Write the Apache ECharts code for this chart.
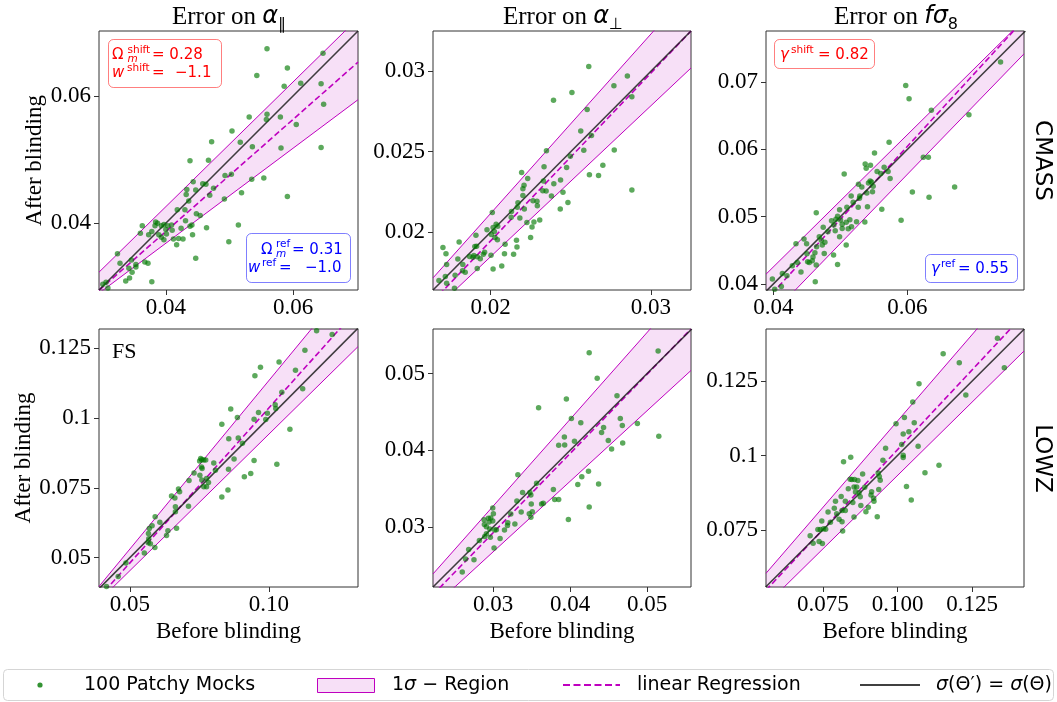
<!DOCTYPE html>
<html>
<head>
<meta charset="utf-8">
<script src="https://cdn.jsdelivr.net/npm/echarts@6/dist/echarts.min.js"></script>
<style>
  html, body { margin: 0; padding: 0; background: #fff; }
  #chart { width: 1057px; height: 702px; }
</style>
</head>
<body>
<div id="chart"></div>
<script>
// Errors of the BAO/RSD parameters measured on 100 Patchy mocks, before vs after blinding.
// Each pair is [before blinding, after blinding].
const cmassAlphaPar = [
  [0.0559,0.0674],[0.0647,0.0667],[0.0591,0.0644],[0.0543,0.0632],[0.0612,0.0620],[0.0586,0.0615],
  [0.0644,0.0619],[0.0648,0.0587],[0.0531,0.0567],[0.0559,0.0571],[0.0558,0.0563],[0.0580,0.0567],
  [0.0605,0.0555],[0.0504,0.0545],[0.0472,0.0528],[0.0517,0.0527],[0.0536,0.0520],[0.0581,0.0518],
  [0.0644,0.0519],[0.0438,0.0498],[0.0467,0.0499],[0.0493,0.0475],[0.0503,0.0477],[0.0535,0.0469],
  [0.0554,0.0471],[0.0443,0.0465],[0.0458,0.0462],[0.0433,0.0453],[0.0447,0.0452],[0.0463,0.0461],
  [0.0475,0.0455],[0.0591,0.0442],[0.0432,0.0445],[0.0436,0.0435],[0.0469,0.0444],[0.0492,0.0438],
  [0.0519,0.0448],[0.0418,0.0421],[0.0430,0.0421],[0.0448,0.0415],[0.0454,0.0412],[0.0384,0.0402],
  [0.0387,0.0400],[0.0393,0.0396],[0.0397,0.0398],[0.0403,0.0396],[0.0409,0.0397],[0.0441,0.0397],
  [0.0438,0.0395],[0.0431,0.0404],[0.0464,0.0393],[0.0514,0.0397],[0.0363,0.0396],[0.0360,0.0384],
  [0.0373,0.0382],[0.0378,0.0387],[0.0389,0.0382],[0.0393,0.0378],[0.0397,0.0374],[0.0401,0.0383],
  [0.0410,0.0389],[0.0412,0.0375],[0.0420,0.0376],[0.0427,0.0375],[0.0442,0.0382],[0.0417,0.0366],
  [0.0499,0.0371],[0.0324,0.0352],[0.0328,0.0337],[0.0342,0.0329],[0.0346,0.0342],[0.0353,0.0335],
  [0.0353,0.0331],[0.0347,0.0323],[0.0367,0.0339],[0.0372,0.0337],[0.0447,0.0345],[0.0337,0.0309],
  [0.0343,0.0314],[0.0378,0.0308],[0.0301,0.0304],[0.0309,0.0298],[0.0306,0.0307],[0.0424,0.0392],
  [0.0400,0.0390],[0.0383,0.0396]
];
const cmassAlphaPerp = [
  [0.02612,0.03029],[0.02853,0.02971],[0.02769,0.02910],[0.02507,0.02868],[0.02392,0.02820],[0.02602,0.02762],
  [0.02881,0.02841],[0.02562,0.02628],[0.02629,0.02600],[0.02348,0.02506],[0.02581,0.02508],[0.02771,0.02510],
  [0.02497,0.02471],[0.02333,0.02406],[0.02474,0.02402],[0.02193,0.02370],[0.02231,0.02333],[0.02208,0.02291],
  [0.02201,0.02270],[0.02329,0.02318],[0.02394,0.02301],[0.02436,0.02324],[0.02616,0.02356],[0.02673,0.02351],
  [0.02700,0.02416],[0.02325,0.02257],[0.02346,0.02255],[0.02379,0.02224],[0.02451,0.02247],[0.02881,0.02262],
  [0.02201,0.02228],[0.02170,0.02182],[0.02264,0.02195],[0.02289,0.02192],[0.02291,0.02163],[0.02210,0.02144],
  [0.02166,0.02155],[0.02130,0.02128],[0.02128,0.02092],[0.02182,0.02088],[0.02434,0.02144],[0.02482,0.02184],
  [0.02010,0.02121],[0.02015,0.02029],[0.01977,0.02015],[0.02034,0.02048],[0.02044,0.02036],[0.02023,0.02004],
  [0.02004,0.01985],[0.02027,0.01967],[0.02042,0.01952],[0.02226,0.02059],[0.02270,0.02063],[0.02306,0.02075],
  [0.02258,0.02031],[0.02249,0.01967],[0.02090,0.01925],[0.02161,0.01950],[0.02164,0.01908],[0.01908,0.01981],
  [0.01912,0.01912],[0.01803,0.01939],[0.01702,0.01904],[0.01721,0.01866],[0.01868,0.01849],[0.01889,0.01843],
  [0.01916,0.01847],[0.01935,0.01835],[0.01954,0.01862],[0.02002,0.01856],[0.02086,0.01866],[0.02143,0.01862],
  [0.01795,0.01833],[0.01826,0.01799],[0.01725,0.01799],[0.01916,0.01774],[0.02015,0.01770],[0.02069,0.01789],
  [0.01824,0.01759],[0.01841,0.01751],[0.01778,0.01732],[0.01717,0.01724],[0.01677,0.01699],[0.01725,0.01682],
  [0.01774,0.01651],[0.01692,0.01638],[0.01901,0.01910],[0.01895,0.01854],[0.01962,0.01874]
];
const cmassFs8 = [
  [0.07390,0.07298],[0.05975,0.06950],[0.06025,0.06752],[0.06357,0.06583],[0.06918,0.06514],[0.05727,0.06107],
  [0.05509,0.05948],[0.06238,0.05883],[0.06313,0.05883],[0.05370,0.05784],[0.05449,0.05764],[0.05385,0.05720],
  [0.05653,0.05734],[0.05548,0.05670],[0.05603,0.05640],[0.05712,0.05670],[0.05057,0.05635],[0.05444,0.05531],
  [0.05464,0.05516],[0.05419,0.05501],[0.05270,0.05481],[0.05742,0.05566],[0.05489,0.05452],[0.05320,0.05442],
  [0.06705,0.05442],[0.06074,0.05367],[0.06323,0.05288],[0.05479,0.05372],[0.05395,0.05352],[0.05290,0.05308],
  [0.05161,0.05308],[0.05191,0.05213],[0.05285,0.05273],[0.05266,0.05139],[0.05404,0.05149],[0.05097,0.05139],
  [0.04988,0.05104],[0.04958,0.05005],[0.04868,0.04940],[0.04933,0.04960],[0.05002,0.04950],[0.05087,0.04916],
  [0.05027,0.04886],[0.05141,0.04955],[0.05166,0.04851],[0.04640,0.05060],[0.04903,0.04876],[0.05027,0.04826],
  [0.05241,0.04926],[0.05365,0.04921],[0.05618,0.05109],[0.05906,0.04945],[0.04744,0.04841],[0.04814,0.04777],
  [0.04923,0.04792],[0.04988,0.04702],[0.05117,0.04821],[0.04685,0.04702],[0.04715,0.04648],[0.04730,0.04578],
  [0.04769,0.04618],[0.04645,0.04553],[0.04620,0.04464],[0.04457,0.04667],[0.04337,0.04598],[0.04496,0.04598],
  [0.04501,0.04449],[0.04759,0.04454],[0.04591,0.04400],[0.04511,0.04330],[0.04536,0.04320],[0.04581,0.04345],
  [0.04640,0.04280],[0.04898,0.04429],[0.05087,0.04578],[0.04958,0.04290],[0.04357,0.04320],[0.04283,0.04270],
  [0.04412,0.04176],[0.04203,0.04122],[0.04134,0.04156],[0.04625,0.04032],[0.03985,0.04072],[0.04119,0.03963],
  [0.04020,0.03923]
];
const lowzAlphaPar = [
  [0.1172,0.1312],[0.1228,0.1298],[0.1130,0.1242],[0.1037,0.1200],[0.0970,0.1181],[0.0950,0.1151],
  [0.1096,0.1170],[0.1122,0.1104],[0.1047,0.1092],[0.1023,0.1047],[0.1025,0.1034],[0.0995,0.1017],
  [0.0963,0.1019],[0.0947,0.0995],[0.0989,0.0994],[0.0863,0.1032],[0.0887,0.1001],[0.0831,0.0977],
  [0.1076,0.0959],[0.0856,0.0925],[0.0890,0.0928],[0.0905,0.0909],[0.0755,0.0855],[0.0759,0.0850],
  [0.0766,0.0849],[0.0773,0.0849],[0.0751,0.0846],[0.0802,0.0839],[0.0758,0.0824],[0.0760,0.0819],
  [0.0808,0.0813],[0.0731,0.0803],[0.0752,0.0795],[0.0776,0.0783],[0.0759,0.0778],[0.0783,0.0769],
  [0.0713,0.0776],[0.0766,0.0754],[0.0776,0.0754],[0.0855,0.0816],[0.0875,0.0853],[0.0947,0.0848],
  [0.1029,0.0834],[0.0912,0.0789],[0.0935,0.0801],[0.0853,0.0742],[0.0831,0.0717],[0.0675,0.0746],
  [0.0679,0.0736],[0.0650,0.0721],[0.0662,0.0713],[0.0711,0.0684],[0.0664,0.0682],[0.0664,0.0664],
  [0.0608,0.0627],[0.0591,0.0646],[0.0570,0.0604],[0.0580,0.0614],[0.0567,0.0586],[0.0568,0.0568],
  [0.0574,0.0550],[0.0637,0.0596],[0.0632,0.0579],[0.0668,0.0605],[0.0590,0.0536],[0.0552,0.0517],
  [0.0486,0.0481],[0.0458,0.0433],[0.0416,0.0397],[0.0566,0.0553]
];
const lowzAlphaPerp = [
  [0.04248,0.05271],[0.05143,0.05293],[0.04352,0.04939],[0.03952,0.04668],[0.03591,0.04555],[0.04609,0.04712],
  [0.04017,0.04415],[0.04139,0.04358],[0.04652,0.04415],[0.04678,0.04323],[0.04435,0.04297],[0.04409,0.04231],
  [0.04874,0.04349],[0.05152,0.04183],[0.03926,0.04175],[0.03930,0.04070],[0.03852,0.04066],[0.04057,0.04118],
  [0.04496,0.04127],[0.04683,0.04096],[0.04539,0.04017],[0.03322,0.03681],[0.04239,0.03729],[0.04152,0.03655],
  [0.04100,0.03555],[0.04370,0.03563],[0.03565,0.03572],[0.03383,0.03450],[0.03478,0.03450],[0.03491,0.03419],
  [0.03309,0.03341],[0.03783,0.03489],[0.03800,0.03358],[0.03852,0.03358],[0.03496,0.03301],[0.03630,0.03301],
  [0.03652,0.03310],[0.04248,0.03262],[0.03365,0.03197],[0.03230,0.03170],[0.03470,0.03175],[0.03509,0.03201],
  [0.03491,0.03127],[0.03978,0.03100],[0.02996,0.03249],[0.03004,0.03175],[0.02883,0.03096],[0.02939,0.03114],
  [0.02970,0.03118],[0.02996,0.03079],[0.02887,0.03035],[0.02913,0.03004],[0.02957,0.02974],[0.03022,0.02961],
  [0.02913,0.02913],[0.02965,0.02869],[0.03191,0.03057],[0.03187,0.03022],[0.03148,0.02961],[0.03283,0.03039],
  [0.03091,0.02852],[0.03013,0.02729],[0.02822,0.02825],[0.02683,0.02707],[0.02643,0.02585],[0.02752,0.02576],
  [0.02600,0.02415],[0.02891,0.02878],[0.03043,0.02965],[0.02948,0.03066]
];
const lowzFs8 = [
  [0.1335,0.1394],[0.1153,0.1342],[0.1207,0.1312],[0.1358,0.1295],[0.1072,0.1241],[0.1051,0.1180],
  [0.1229,0.1203],[0.1023,0.1128],[0.0995,0.1107],[0.1056,0.1110],[0.1019,0.1072],[0.1038,0.1080],
  [0.0960,0.1024],[0.1014,0.1037],[0.1069,0.1031],[0.0819,0.0979],[0.0843,0.0994],[0.0951,0.0984],
  [0.1019,0.1001],[0.1019,0.0993],[0.1139,0.0967],[0.1092,0.0942],[0.1030,0.0896],[0.1046,0.0850],
  [0.0883,0.0938],[0.0935,0.0941],[0.0942,0.0917],[0.0939,0.0929],[0.0847,0.0919],[0.0856,0.0919],
  [0.0867,0.0916],[0.0835,0.0888],[0.0854,0.0894],[0.0863,0.0894],[0.0859,0.0877],[0.0871,0.0875],
  [0.0890,0.0893],[0.0913,0.0878],[0.0911,0.0867],[0.0920,0.0856],[0.0937,0.0886],[0.0811,0.0862],
  [0.0825,0.0846],[0.0850,0.0842],[0.0875,0.0861],[0.0877,0.0832],[0.0902,0.0826],[0.0894,0.0811],
  [0.0932,0.0794],[0.0854,0.0793],[0.0792,0.0846],[0.0788,0.0823],[0.0796,0.0804],[0.0767,0.0810],
  [0.0814,0.0815],[0.0804,0.0786],[0.0814,0.0777],[0.0825,0.0815],[0.0746,0.0780],[0.0775,0.0776],
  [0.0733,0.0751],[0.0741,0.0751],[0.0752,0.0754],[0.0759,0.0752],[0.0816,0.0746],[0.0707,0.0730],
  [0.0717,0.0705],[0.0737,0.0711],[0.0748,0.0704],[0.0921,0.0846],[0.0841,0.0920]
];

// Axis extents (before / after blinding), panel order: CMASS row then LOWZ row.
const xRanges = [[0.0295,0.0702],[0.0164,0.0325],[0.0389,0.0774],[0.0389,0.1321],[0.0222,0.0557],[0.0559,0.1424]];
const yRanges = [[0.0295,0.0702],[0.0164,0.0325],[0.0391,0.0776],[0.0395,0.1318],[0.0222,0.0558],[0.0558,0.1425]];

// Tick labels
const xTicks = [['0.04','0.06'],['0.02','0.03'],['0.04','0.06'],['0.05','0.10'],['0.03','0.04','0.05'],['0.075','0.100','0.125']];
const yTicks = [['0.04','0.06'],['0.02','0.025','0.03'],['0.04','0.05','0.06','0.07'],['0.05','0.075','0.1','0.125'],['0.03','0.04','0.05'],['0.075','0.1','0.125']];

// Linear regression and the edges of the 1-sigma region, as two points each
const regressionLines = [
  [[0.0295,0.02945],[0.0702,0.0653]],
  [[0.0164,0.0157],[0.0325,0.0325]],
  [[0.0389,0.0376],[0.0774,0.0793]],
  [[0.0389,0.0358],[0.1321,0.1391]],
  [[0.0222,0.0212],[0.0557,0.0558]],
  [[0.0559,0.0547],[0.1424,0.1474]]
];
const bandUpper = [
  [[0.0295,0.0323],[0.0702,0.0722]],
  [[0.0164,0.01715],[0.0325,0.0351]],
  [[0.0389,0.04145],[0.0774,0.0793]],
  [[0.0389,0.0397],[0.1321,0.1520]],
  [[0.0222,0.0239],[0.0557,0.0618]],
  [[0.0559,0.0604],[0.1424,0.1608]]
];
const bandLower = [
  [[0.0295,0.0290],[0.0702,0.0594]],
  [[0.0164,0.0151],[0.0325,0.0302]],
  [[0.0389,0.0346],[0.0774,0.0742]],
  [[0.0389,0.0345],[0.1321,0.1255]],
  [[0.0222,0.0196],[0.0557,0.0504]],
  [[0.0559,0.0498],[0.1424,0.1351]]
];

const columnTitles = ['{r|Error on }{m|α}{s|∥}', '{r|Error on }{m|α}{s|⊥}', '{r|Error on }{m|fσ}{s|8}'];
const rowNames = ['CMASS', 'LOWZ'];

const SERIF = "'Liberation Serif', 'Times New Roman', serif";
const SANS = "'DejaVu Sans', sans-serif";
const GREEN = 'rgba(0,120,0,0.8)';
const MAGENTA = '#bf00bf';
const BAND_FILL = 'rgba(191,0,191,0.12)';
const IDENTITY = 'rgba(30,30,30,0.85)';
const FRAME = '#333';

const scatterSets = [cmassAlphaPar, cmassAlphaPerp, cmassFs8, lowzAlphaPar, lowzAlphaPerp, lowzFs8];
const colLeft = [99, 433, 766];
const rowTop = [31, 329];

const labelFor = labels => v => {
  for (const s of labels) if (Math.abs(parseFloat(s) - v) < 1e-9) return s;
  return '';
};

const grids = [], xAxes = [], yAxes = [], series = [];
scatterSets.forEach((pts, i) => {
  const r = Math.floor(i / 3), c = i % 3;
  grids.push({
    left: colLeft[c], top: rowTop[r], width: c === 0 ? 259 : 258, height: r === 0 ? 259 : 258,
    show: true, borderColor: FRAME, borderWidth: 1, backgroundColor: 'transparent',
    containLabel: false, outerBoundsMode: 'none'
  });
  const xv = xTicks[i].map(parseFloat), yv = yTicks[i].map(parseFloat);
  const labelStyle = { fontFamily: SERIF, fontSize: 23, color: '#000' };
  xAxes.push({
    gridIndex: i, type: 'value', min: xRanges[i][0], max: xRanges[i][1],
    axisLine: { show: false },
    axisTick: { show: true, length: 5, customValues: xv, lineStyle: { color: FRAME } },
    axisLabel: Object.assign({ customValues: xv, formatter: labelFor(xTicks[i]), margin: 6 }, labelStyle),
    splitLine: { show: false },
    name: r === 1 ? 'Before blinding' : '', nameLocation: 'middle', nameGap: 33,
    nameTextStyle: labelStyle
  });
  yAxes.push({
    gridIndex: i, type: 'value', min: yRanges[i][0], max: yRanges[i][1],
    axisLine: { show: false },
    axisTick: { show: true, length: 5, customValues: yv, lineStyle: { color: FRAME } },
    axisLabel: Object.assign({ customValues: yv, formatter: labelFor(yTicks[i]), margin: 8 }, labelStyle),
    splitLine: { show: false },
    name: c === 0 ? 'After blinding' : '', nameLocation: 'middle', nameGap: 52,
    nameTextStyle: labelStyle
  });

  const poly = bandLower[i].concat(bandUpper[i].slice().reverse());
  series.push({
    type: 'custom', xAxisIndex: i, yAxisIndex: i, clip: true, silent: true, z: 1,
    data: [[(xRanges[i][0] + xRanges[i][1]) / 2, (yRanges[i][0] + yRanges[i][1]) / 2]],
    renderItem: (params, api) => ({
      type: 'polygon',
      shape: { points: poly.map(p => api.coord(p)) },
      style: { fill: BAND_FILL }
    })
  });
  const seg = (data, lineStyle, z) => ({
    type: 'line', xAxisIndex: i, yAxisIndex: i, data, symbol: 'none', showSymbol: false,
    silent: true, clip: true, z, lineStyle
  });
  series.push(seg(bandUpper[i], { color: MAGENTA, width: 1 }, 2));
  series.push(seg(bandLower[i], { color: MAGENTA, width: 1 }, 2));
  series.push(seg(regressionLines[i], { color: MAGENTA, width: 1.6, type: [6, 3] }, 3));
  const lo = Math.min(xRanges[i][0], yRanges[i][0]), hi = Math.max(xRanges[i][1], yRanges[i][1]);
  series.push(seg([[lo, lo], [hi, hi]], { color: IDENTITY, width: 1.6 }, 3));
  series.push({
    type: 'scatter', xAxisIndex: i, yAxisIndex: i, data: pts, symbolSize: 5.5,
    itemStyle: { color: GREEN }, silent: true, z: 5
  });
});

// ---- text, annotations and legend ----
const graphics = [];
const titleRich = {
  r: { fontFamily: SERIF, fontSize: 25, lineHeight: 32, fill: '#000' },
  m: { fontFamily: SANS, fontStyle: 'italic', fontSize: 24, lineHeight: 32, fill: '#000' },
  s: { fontFamily: SANS, fontSize: 16, lineHeight: 16, verticalAlign: 'bottom', fill: '#000' }
};
columnTitles.forEach((t, c) => {
  graphics.push({
    type: 'text', x: colLeft[c] + 130, y: 17, z: 20,
    style: { text: t, rich: titleRich, align: 'center', verticalAlign: 'middle', textAlign: 'center', textVerticalAlign: 'middle', fill: '#000' }
  });
});
rowNames.forEach((t, r) => {
  graphics.push({
    type: 'text', x: 1042, y: rowTop[r] + 129.5, rotation: -Math.PI / 2, z: 20,
    style: { text: t, fontFamily: SANS, fontSize: 23, fill: '#000', align: 'center', verticalAlign: 'middle', textAlign: 'center', textVerticalAlign: 'middle' }
  });
});

function piece(text, x, y, size, color, italic) {
  return {
    type: 'text', x, y, z: 21,
    style: { text, fill: color, fontFamily: SANS, fontSize: size, fontStyle: italic ? 'italic' : 'normal',
      align: 'left', verticalAlign: 'middle', textAlign: 'left', textVerticalAlign: 'middle' }
  };
}
function box(x, y, w, h, stroke) {
  return {
    type: 'rect', z: 20, shape: { x, y, width: w, height: h, r: 5 },
    style: { fill: 'rgba(255,255,255,0.85)', stroke, lineWidth: 1 }
  };
}
const RED = '#ff0000', BLUE = '#0000ff';
const RED_EDGE = 'rgba(255,0,0,0.5)', BLUE_EDGE = 'rgba(0,0,255,0.5)';
const BIG = 15, SMALL = 10.5;

// shifted cosmology (CMASS, alpha parallel)
graphics.push(box(108.5, 39.5, 113, 48, RED_EDGE));
graphics.push(piece('Ω', 112, 55, BIG, RED));
graphics.push(piece('shift', 127.5, 50, SMALL, RED));
graphics.push(piece('m', 127.5, 59.5, SMALL, RED, true));
graphics.push(piece('= 0.28', 152, 55, BIG, RED));
graphics.push(piece('w', 112, 73, BIG, RED, true));
graphics.push(piece('shift', 127, 68, SMALL, RED));
graphics.push(piece('=', 152, 73, BIG, RED));
graphics.push(piece('−1.1', 175, 73, BIG, RED));
// reference cosmology
graphics.push(box(246.5, 233.5, 104, 49, BLUE_EDGE));
graphics.push(piece('Ω', 261, 250, BIG, BLUE));
graphics.push(piece('ref', 276, 244.5, SMALL, BLUE));
graphics.push(piece('m', 276, 254.5, SMALL, BLUE, true));
graphics.push(piece('= 0.31', 292, 250, BIG, BLUE));
graphics.push(piece('w', 248, 268, BIG, BLUE, true));
graphics.push(piece('ref', 262, 263, SMALL, BLUE));
graphics.push(piece('=', 279, 268, BIG, BLUE));
graphics.push(piece('−1.0', 305, 268, BIG, BLUE));
// growth index (CMASS, f sigma8)
graphics.push(box(774.5, 39.5, 100, 29, RED_EDGE));
graphics.push(piece('γ', 780, 55, BIG, RED, true));
graphics.push(piece('shift', 791, 50, SMALL, RED));
graphics.push(piece('= 0.82', 818, 55, BIG, RED));
graphics.push(box(925.5, 254.5, 92, 28, BLUE_EDGE));
graphics.push(piece('γ', 931, 269, BIG, BLUE, true));
graphics.push(piece('ref', 941, 264, SMALL, BLUE));
graphics.push(piece('= 0.55', 958, 269, BIG, BLUE));

// full-shape label
graphics.push({
  type: 'text', x: 112, y: 352, z: 20,
  style: { text: 'FS', fontFamily: SERIF, fontSize: 22, fill: '#000', align: 'left', verticalAlign: 'middle', textAlign: 'left', textVerticalAlign: 'middle' }
});

// legend
const LY = 685, LFS = 19;
const legendRich = {
  n: { fontFamily: SANS, fontSize: LFS, fill: '#000' },
  i: { fontFamily: SANS, fontSize: LFS, fontStyle: 'italic', fill: '#000' }
};
function legendText(text, x) {
  return {
    type: 'text', x, y: LY, z: 21,
    style: { text, rich: legendRich, fontFamily: SANS, fontSize: LFS, fill: '#000', align: 'left', verticalAlign: 'middle', textAlign: 'left', textVerticalAlign: 'middle' }
  };
}
graphics.push({ type: 'rect', z: 20, shape: { x: 3.5, y: 669.5, width: 1050, height: 31, r: 4 }, style: { fill: '#fff', stroke: '#d5d5d5', lineWidth: 1 } });
graphics.push({ type: 'circle', z: 21, shape: { cx: 40, cy: LY, r: 2.6 }, style: { fill: GREEN } });
graphics.push(legendText('{n|100 Patchy Mocks}', 84));
graphics.push({ type: 'rect', z: 21, shape: { x: 317.5, y: 678.5, width: 57, height: 14 }, style: { fill: BAND_FILL, stroke: MAGENTA, lineWidth: 1 } });
graphics.push(legendText('{n|1}{i|σ}{n| − Region}', 392));
graphics.push({ type: 'line', z: 21, shape: { x1: 563, y1: LY, x2: 620, y2: LY }, style: { stroke: MAGENTA, lineWidth: 2, lineDash: [7, 3.5] } });
graphics.push(legendText('{n|linear Regression}', 637));
graphics.push({ type: 'line', z: 21, shape: { x1: 860, y1: LY, x2: 920, y2: LY }, style: { stroke: IDENTITY, lineWidth: 2 } });
graphics.push(legendText('{i|σ}{n|(Θ′) = }{i|σ}{n|(Θ)}', 936));

const chart = echarts.init(document.getElementById('chart'), null, { renderer: 'canvas' });
chart.setOption({
  animation: false,
  backgroundColor: '#fff',
  grid: grids,
  xAxis: xAxes,
  yAxis: yAxes,
  series,
  graphic: graphics
});
</script>
</body>
</html>
